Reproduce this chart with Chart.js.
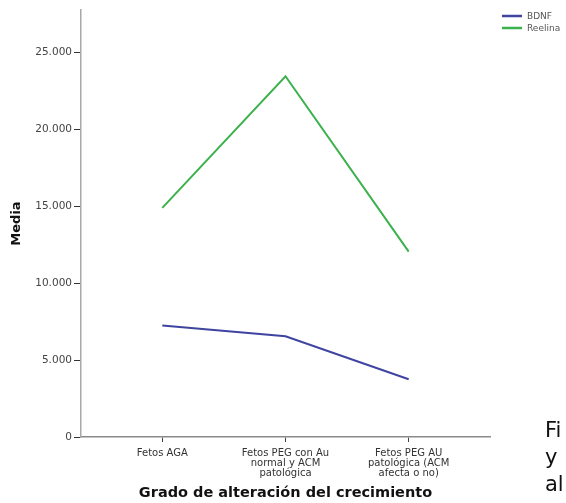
<!DOCTYPE html>
<html>
<head>
<meta charset="utf-8">
<script src="https://cdn.jsdelivr.net/npm/chart.js@4.4.1/dist/chart.umd.min.js"></script>
<style>
  html, body { margin: 0; padding: 0; background: #fff; }
  #wrap { position: relative; width: 566px; height: 503px; overflow: hidden; }
  #chart { position: absolute; left: 0; top: 0; }
  .side { position: absolute; left: 545px; font-family: "DejaVu Sans", sans-serif; font-size: 21px; color: #111; line-height: 27px; }
</style>
</head>
<body>
<div id="wrap">
  <canvas id="chart" width="566" height="503"></canvas>
  <div class="side" style="top: 417px;">Fi<br>y<br>al</div>
</div>
<script>
const categories = [
  ['Fetos AGA'],
  ['Fetos PEG con Au', 'normal y ACM', 'patológica'],
  ['Fetos PEG AU', 'patológica (ACM', 'afecta o no)']
];
const bdnf = [7250, 6550, 3750];
const reelina = [14900, 23450, 12050];
const yTicks = [0, 5000, 10000, 15000, 20000, 25000];
const yTickLabels = ['0', '5.000', '10.000', '15.000', '20.000', '25.000'];
const seriesNames = ['BDNF', 'Reelina'];
const seriesColors = ['#3f44a0', '#3bb14b'];

const toPoints = (vals) => vals.map((v, i) => ({ x: i, y: v }));

// small legend in the top right corner, outside the plot
const cornerLegend = {
  id: 'cornerLegend',
  afterDraw(chart) {
    const ctx = chart.ctx;
    ctx.save();
    ctx.font = '9px "DejaVu Sans"';
    ctx.textBaseline = 'middle';
    chart.data.datasets.forEach((ds, i) => {
      const y = 16 + i * 12;
      ctx.strokeStyle = ds.borderColor;
      ctx.lineWidth = 2.5;
      ctx.beginPath();
      ctx.moveTo(502, y);
      ctx.lineTo(522, y);
      ctx.stroke();
      ctx.fillStyle = '#555';
      ctx.fillText(ds.label, 527, y + 1);
    });
    ctx.restore();
  }
};

new Chart(document.getElementById('chart'), {
  type: 'line',
  data: {
    datasets: [
      { label: seriesNames[0], data: toPoints(bdnf), borderColor: seriesColors[0], borderWidth: 2, pointRadius: 0, tension: 0 },
      { label: seriesNames[1], data: toPoints(reelina), borderColor: seriesColors[1], borderWidth: 2, pointRadius: 0, tension: 0 }
    ]
  },
  plugins: [cornerLegend],
  options: {
    responsive: false,
    animation: false,
    devicePixelRatio: 1,
    layout: { padding: { top: 10, right: 76, left: 0, bottom: 0 } },
    plugins: {
      legend: { display: false },
      tooltip: { enabled: false }
    },
    scales: {
      x: {
        type: 'linear',
        min: -0.66,
        max: 2.66,
        afterBuildTicks: (scale) => { scale.ticks = categories.map((c, i) => ({ value: i })); },
        afterFit: (scale) => { scale.height = 66; },
        ticks: {
          autoSkip: false,
          maxRotation: 0,
          padding: 6,
          color: '#333',
          font: { family: 'DejaVu Sans', size: 10, lineHeight: 1.0 },
          callback: (v, i) => categories[i]
        },
        grid: { drawOnChartArea: false, drawTicks: true, tickLength: 5, color: '#444' },
        border: { display: true, color: '#8a8a8a', width: 1.5 },
        title: {
          display: true,
          text: 'Grado de alteración del crecimiento',
          color: '#111',
          font: { family: 'DejaVu Sans', size: 14.5, weight: 'bold' },
          padding: { top: 0, bottom: 1 }
        }
      },
      y: {
        min: 0,
        max: 27760,
        afterBuildTicks: (scale) => { scale.ticks = yTicks.map(v => ({ value: v })); },
        afterFit: (scale) => { scale.width = 81; },
        ticks: {
          padding: 2,
          color: '#444',
          font: { family: 'DejaVu Sans', size: 10.5 },
          callback: (v) => yTickLabels[yTicks.indexOf(v)]
        },
        grid: { drawOnChartArea: false, drawTicks: true, tickLength: 7, color: '#333' },
        border: { display: true, color: '#a8a8a8', width: 1.5 },
        title: {
          display: true,
          text: 'Media',
          color: '#111',
          font: { family: 'DejaVu Sans', size: 13, weight: 'bold' },
          padding: { top: 9, bottom: 0 }
        }
      }
    }
  }
});
</script>
</body>
</html>
